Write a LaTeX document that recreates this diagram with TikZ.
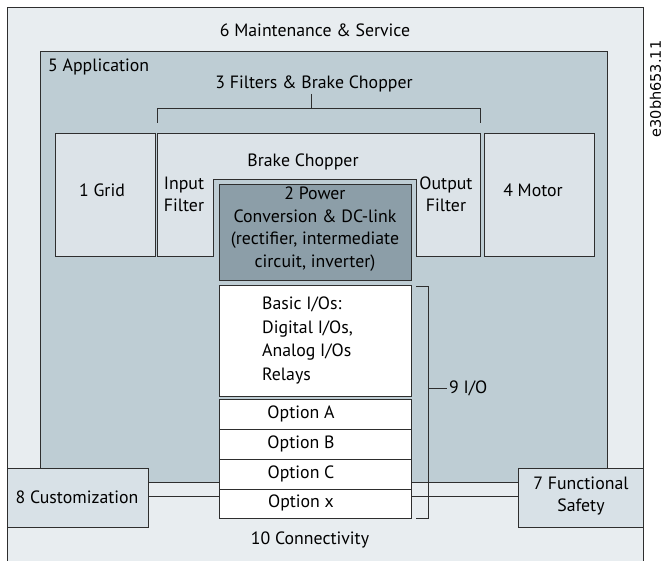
\documentclass[tikz,border=0pt]{standalone}
\usepackage{fontspec}
\setmainfont{PT Sans}
\newfontfamily\codefont{DejaVu Sans}
\definecolor{outerc}{HTML}{E8EDF0}
\definecolor{appc}{HTML}{BECDD4}
\definecolor{lightc}{HTML}{DCE3E8}
\definecolor{powc}{HTML}{8C9EA8}
\definecolor{custc}{HTML}{D8E1E7}
\definecolor{linec}{HTML}{2E2E2E}
\tikzset{
  box/.style={draw=linec, line width=0.8pt, inner sep=0pt, rectangle},
  txt/.style={inner sep=0pt, font=\fontsize{17.8}{22}\selectfont, text=black},
  ln/.style={draw=linec, line width=0.8pt}
}
\begin{document}
\begin{tikzpicture}[x=1pt,y=-1pt]
\useasboundingbox (0,0) rectangle (665,561);
% outer
\path[ln, fill=outerc] (7,7) rectangle (643,575);
\node[txt] (maint) at (315,30) {6 Maintenance \& Service};
% application
\path[ln, fill=appc] (40,51) rectangle (607,482);
\node[txt, anchor=west] (app) at (48,67) {5 Application};
\node[txt] (filt) at (314,84) {3 Filters \& Brake Chopper};
\coordinate (brL) at (157,123);
\coordinate (brR) at (480,123);
\draw[ln] (311,94) -- (311,108) coordinate (brM);
\draw[ln] (brL) -- (brL |- brM) -- (brR |- brM) -- (brR);
% grid and motor
\node[box, fill=lightc, minimum width=100, minimum height=123] (grid) at (105,194.5) {};
\node[txt] (gridt) at (102,190) {1 Grid};
\node[box, fill=lightc, minimum width=110, minimum height=123] (motor) at (539,194.5) {};
\node[txt] (motort) at (533,190) {4 Motor};
% filter block with notch
\path[ln, fill=lightc] (157,133) -- (480,133) -- (480,256) -- (416,256) -- (416,179) -- (213,179) -- (213,256) -- (157,256) -- cycle;
\node[txt] (brake) at (303,162) {Brake Chopper};
\node[txt, align=center] (infilt) at (184,194) {Input\\Filter};
\node[txt, align=center] (outfilt) at (446,194) {Output\\Filter};
% power
\node[box, fill=powc, minimum width=192, minimum height=96] (power) at (315,232) {};
\node[txt, align=center, font=\fontsize{17.8}{22.6}\selectfont] (powert) at (315,229) {2 Power\\Conversion \& DC-link\\(rectifier, intermediate\\circuit, inverter)};
% basic I/O
\node[box, fill=white, minimum width=192, minimum height=111] (basic) at (315,340.5) {};
\node[txt, align=left, anchor=north west, font=\fontsize{17.8}{23.5}\selectfont] (basict) at (262,297) {Basic I/Os:\\Digital I/Os,\\Analog I/Os\\Relays};
% options
\node[box, fill=white, minimum width=192, minimum height=30] (oa) at (315,414) {};
\node[txt] (oat) at (301,414) {Option A};
\node[box, fill=white, minimum width=192, minimum height=30] (ob) at (315,444) {};
\node[txt] (obt) at (301,444) {Option B};
\node[box, fill=white, minimum width=192, minimum height=30] (oc) at (315,474) {};
\node[txt] (oct) at (301,474) {Option C};
\node[box, fill=white, minimum width=192, minimum height=29] (ox) at (315,503.5) {};
\node[txt] (oxt) at (301,503) {Option x};
% 9 I/O bracket
\node[txt, anchor=west] (io) at (449,388) {9 I/O};
\coordinate (ioT) at (416,286);
\coordinate (ioB) at (416,518);
\draw[ln] (ioT) -- ++(12,0) coordinate (ioT2) -- (ioT2 |- ioB) -- (ioB);
\draw[ln] (ioT2 |- io.west) -- ([xshift=-2pt]io.west);
% customization and functional safety
\node[box, fill=custc, minimum width=141, minimum height=59] (cust) at (77.5,497.5) {};
\node[txt] (custt) at (77,497) {8 Customization};
\node[box, fill=custc, minimum width=125, minimum height=59] (safe) at (580.5,497.5) {};
\node[txt, align=center] (safet) at (581,496) {7 Functional\\Safety};
\draw[ln] ([yshift=1.5pt]cust.east) -- ([yshift=1.5pt]cust.east -| ox.west);
\draw[ln] ([yshift=1.5pt]safe.west) -- ([yshift=1.5pt]safe.west -| ox.east);
\node[txt] (conn) at (310,540) {10 Connectivity};
% code
\node[inner sep=0pt, rotate=90, font=\codefont\fontsize{14.5}{14.5}\selectfont] (code) at (655.5,89) {e30bh653.11};
\end{tikzpicture}
\end{document}
